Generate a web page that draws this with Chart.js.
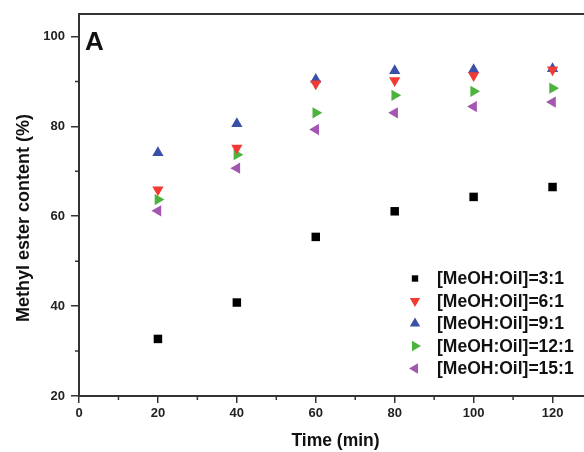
<!DOCTYPE html>
<html><head><meta charset="utf-8">
<style>html,body{margin:0;padding:0;overflow:hidden;background:#fff;width:584px;height:452px}#wrap{width:600px;height:452px;position:relative}</style>
<script src="https://cdn.jsdelivr.net/npm/chart.js@4.4.1/dist/chart.umd.min.js"></script>
</head><body><div id="wrap"><canvas id="c" width="600" height="452"></canvas></div>
<script>
const times = [20, 40, 60, 80, 100, 120];
const seriesLabels = ['[MeOH:Oil]=3:1','[MeOH:Oil]=6:1','[MeOH:Oil]=9:1','[MeOH:Oil]=12:1','[MeOH:Oil]=15:1'];
const ratio3 = [32.7, 40.8, 55.4, 61.1, 64.3, 66.5];
const ratio6 = [65.9, 75.2, 89.5, 90.2, 91.3, 92.6];
const ratio9 = [74.1, 80.6, 90.4, 92.4, 92.6, 92.8];
const ratio12 = [63.7, 73.7, 83.0, 86.9, 87.8, 88.5];
const ratio15 = [61.2, 70.7, 79.3, 83.0, 84.4, 85.4];
const xTicks = [0, 20, 40, 60, 80, 100, 120];
const yTicks = [20, 40, 60, 80, 100];
const xTitle = 'Time (min)';
const yTitle = 'Methyl ester content (%)';

const colors = ['#000000', '#f23a35', '#3a4fa8', '#4cb33c', '#a457b0'];
const styles = ['rect', 'triangle', 'triangle', 'triangle', 'triangle'];
const rots = [0, 180, 0, 90, 270];
const allSeries = [ratio3, ratio6, ratio9, ratio12, ratio15];
const FONT = '"Liberation Sans", Arial, sans-serif';

const datasets = allSeries.map((s, i) => ({
  label: seriesLabels[i],
  data: s.map((v, j) => ({x: times[j], y: v})),
  pointStyle: styles[i],
  pointRotation: rots[i],
  pointRadius: i === 0 ? 6 : 6.5,
  pointBackgroundColor: colors[i],
  pointBorderColor: colors[i],
  pointBorderWidth: 0,
  showLine: false
}));

const axisColor = '#333';

const extras = {
  id: 'extras',
  afterDraw(chart) {
    const ctx = chart.ctx, ca = chart.chartArea;
    const xs = chart.scales.x, ys = chart.scales.y;
    ctx.save();
    ctx.strokeStyle = axisColor;
    ctx.lineWidth = 2;
    ctx.beginPath();
    ctx.moveTo(ca.left, ca.top); ctx.lineTo(ca.right, ca.top);
    ctx.lineTo(ca.right, ca.bottom);
    ctx.stroke();
    // minor ticks
    ctx.lineWidth = 1.5;
    ctx.beginPath();
    for (let v = 10; v <= 130; v += 20) {
      const px = xs.getPixelForValue(v);
      ctx.moveTo(px, ca.bottom); ctx.lineTo(px, ca.bottom + 4);
    }
    for (let v = 30; v <= 100; v += 20) {
      const py = ys.getPixelForValue(v);
      ctx.moveTo(ca.left, py); ctx.lineTo(ca.left - 4, py);
    }
    ctx.stroke();
    // y title
    ctx.save();
    ctx.translate(24, 218);
    ctx.rotate(-Math.PI / 2);
    ctx.fillStyle = '#111';
    ctx.font = 'bold 18px ' + FONT;
    ctx.textAlign = 'center';
    ctx.textBaseline = 'middle';
    ctx.fillText(yTitle, 0, 0);
    ctx.restore();
    // panel letter
    ctx.fillStyle = '#111';
    ctx.font = 'bold 26px ' + FONT;
    ctx.textBaseline = 'alphabetic';
    ctx.fillText('A', ca.left + 6, ca.top + 36);
    // legend
    ctx.font = 'bold 17.5px ' + FONT;
    ctx.textBaseline = 'middle';
    const lx = 415, ly0 = 278.5, dy = 22.5;
    chart.data.datasets.forEach((ds, i) => {
      const y = ly0 + i * dy;
      ctx.fillStyle = colors[i];
      ctx.strokeStyle = colors[i];
      Chart.helpers.drawPoint(ctx, {pointStyle: ds.pointStyle, rotation: ds.pointRotation, radius: i === 0 ? 4.5 : 6, borderWidth: 0}, lx, y);
      ctx.fillStyle = '#111';
      ctx.fillText(ds.label, 437, y + 1);
    });
    ctx.restore();
  }
};

new Chart(document.getElementById('c'), {
  type: 'scatter',
  data: { datasets },
  plugins: [extras],
  options: {
    responsive: false,
    animation: false,
    layout: { padding: { top: 14, right: 8, left: 0, bottom: 0 } },
    plugins: { legend: { display: false }, tooltip: { enabled: false } },
    scales: {
      x: {
        type: 'linear', min: 0, max: 130,
        afterBuildTicks: (s) => { s.ticks = xTicks.map(v => ({value: v})); },
        afterFit: (s) => { s.height = 56; },
        grid: { drawOnChartArea: false, drawTicks: true, tickLength: 7, color: axisColor, lineWidth: 1.5 },
        border: { display: true, color: axisColor, width: 2 },
        ticks: { color: '#222', padding: 3, font: { family: FONT, size: 13, weight: 'bold' } },
        title: { display: true, text: xTitle, color: '#111', padding: { top: 0, bottom: 0 }, font: { family: FONT, size: 17.5, weight: 'bold' } }
      },
      y: {
        type: 'linear', min: 20, max: 105,
        afterBuildTicks: (s) => { s.ticks = yTicks.map(v => ({value: v})); },
        afterFit: (s) => { s.width = 79; },
        grid: { drawOnChartArea: false, drawTicks: true, tickLength: 8, color: axisColor, lineWidth: 1.5 },
        border: { display: true, color: axisColor, width: 2 },
        ticks: { color: '#222', padding: 6, font: { family: FONT, size: 13, weight: 'bold' } },
        title: { display: false }
      }
    }
  }
});
</script></body></html>
